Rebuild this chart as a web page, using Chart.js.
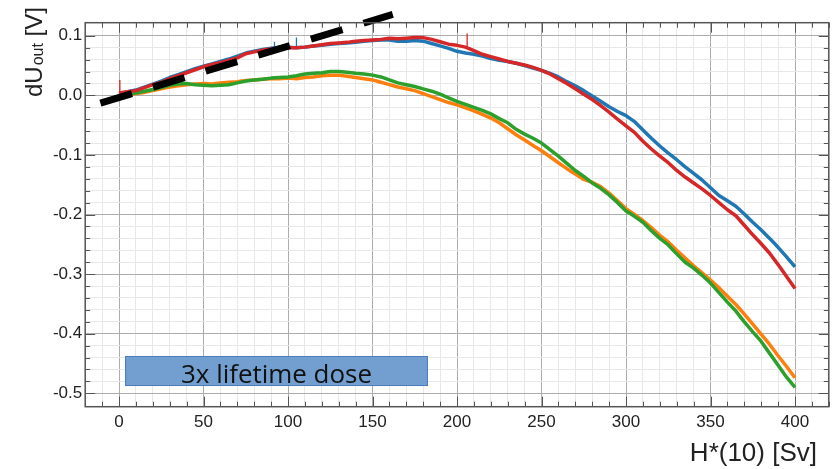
<!DOCTYPE html>
<html>
<head>
<meta charset="utf-8">
<script src="https://cdn.jsdelivr.net/npm/chart.js@4/dist/chart.umd.min.js"></script>
<style>
html,body{margin:0;padding:0;background:#fff;}
#wrap{width:835px;height:469px;position:relative;}
</style>
</head>
<body>
<div id="wrap"><canvas id="c" width="835" height="469"></canvas></div>
<script>
// ---- data ----
const doseX = [0,5,10,15,20,25,30,35,40,45,50,55,60,65,70,75,80,85,90,95,100,105,110,115,120,125,130,135,140,145,150,155,160,165,170,175,180,185,190,195,200,205,210,215,220,225,230,235,240,245,250,255,260,265,270,275,280,285,290,295,300,305,310,315,320,325,330,335,340,345,350,355,360,365,370,375,380,385,390,395,400];

const blueY = [0.003,0.006,0.009,0.014,0.019,0.024,0.030,0.035,0.040,0.045,0.049,0.053,0.057,0.061,0.066,0.071,0.074,0.077,0.079,0.081,0.081,0.080,0.081,0.083,0.084,0.086,0.087,0.088,0.089,0.091,0.092,0.093,0.093,0.091,0.091,0.092,0.091,0.087,0.083,0.079,0.074,0.071,0.069,0.066,0.062,0.059,0.057,0.054,0.050,0.046,0.042,0.037,0.031,0.023,0.016,0.008,-0.001,-0.010,-0.019,-0.027,-0.034,-0.044,-0.058,-0.072,-0.085,-0.097,-0.108,-0.120,-0.131,-0.142,-0.155,-0.168,-0.177,-0.186,-0.199,-0.213,-0.226,-0.240,-0.255,-0.271,-0.288];

const redY = [0.004,0.006,0.008,0.013,0.018,0.022,0.028,0.033,0.038,0.043,0.048,0.052,0.055,0.059,0.063,0.070,0.073,0.076,0.078,0.079,0.080,0.080,0.081,0.083,0.085,0.087,0.088,0.089,0.091,0.092,0.093,0.094,0.096,0.095,0.096,0.097,0.097,0.094,0.090,0.086,0.084,0.081,0.075,0.069,0.065,0.061,0.057,0.054,0.051,0.047,0.042,0.036,0.028,0.020,0.011,0.002,-0.007,-0.017,-0.028,-0.040,-0.051,-0.062,-0.077,-0.090,-0.102,-0.113,-0.126,-0.137,-0.147,-0.157,-0.168,-0.180,-0.192,-0.202,-0.218,-0.234,-0.249,-0.265,-0.284,-0.304,-0.324];

const greenY = [null,0.002,0.004,0.007,0.010,0.013,0.017,0.019,0.020,0.018,0.017,0.016,0.017,0.018,0.021,0.024,0.026,0.027,0.029,0.030,0.031,0.033,0.036,0.037,0.038,0.040,0.040,0.039,0.037,0.036,0.034,0.031,0.026,0.021,0.018,0.015,0.011,0.007,0.002,-0.004,-0.010,-0.015,-0.020,-0.025,-0.031,-0.039,-0.046,-0.057,-0.065,-0.072,-0.080,-0.091,-0.102,-0.114,-0.126,-0.136,-0.147,-0.156,-0.167,-0.180,-0.194,-0.203,-0.213,-0.227,-0.240,-0.251,-0.266,-0.280,-0.290,-0.302,-0.315,-0.331,-0.347,-0.362,-0.380,-0.397,-0.413,-0.433,-0.453,-0.473,-0.490];

const orangeY = [null,0.001,0.003,0.005,0.008,0.011,0.014,0.016,0.018,0.019,0.020,0.019,0.021,0.022,0.023,0.025,0.026,0.027,0.028,0.028,0.029,0.028,0.030,0.031,0.033,0.034,0.034,0.032,0.030,0.028,0.026,0.022,0.018,0.014,0.011,0.008,0.003,-0.002,-0.007,-0.012,-0.016,-0.021,-0.026,-0.032,-0.038,-0.046,-0.056,-0.066,-0.075,-0.084,-0.093,-0.103,-0.113,-0.123,-0.132,-0.141,-0.146,-0.153,-0.164,-0.177,-0.190,-0.200,-0.210,-0.222,-0.235,-0.246,-0.260,-0.273,-0.286,-0.298,-0.310,-0.323,-0.337,-0.351,-0.367,-0.384,-0.401,-0.418,-0.437,-0.455,-0.474];

// spikes: [dose, base, peak]
const redSpikes = [[0.5, 0.006, 0.026], [206, 0.082, 0.104]];
const blueSpikes = [[92, 0.081, 0.090], [105, 0.082, 0.097]];

// dashed linear guide
const guideX = [-11, 162];
const guideY = [-0.013, 0.136];

// annotation box
const doseBoxX = [3.6, 182.8];
const doseBoxY = [-0.4374, -0.4878];
const doseBoxText = '3x lifetime dose';

// axes
const xRange = [-20, 420];
const yRange = [-0.5225, 0.122];
const xTitle = 'H*(10) [Sv]';
const yTitleMain = 'dU';
const yTitleSub = 'out';
const yTitleUnit = ' [V]';

// ---- build ----
function toPoints(xs, ys) {
  return xs.map((x, i) => ({x: x, y: ys[i]}));
}
function spikePoints(spikes) {
  const pts = [];
  spikes.forEach(s => { pts.push({x: s[0], y: s[1]}, {x: s[0], y: s[2]}, {x: s[0], y: null}); });
  return pts;
}

const C_BLUE = '#1f77b4', C_ORANGE = '#ff7f0e', C_GREEN = '#2ca02c', C_RED = '#d62728';

function lineDs(label, pts, color, order, width) {
  return {label, data: pts, borderColor: color, backgroundColor: color, borderWidth: width || 3.5,
    pointRadius: 0, tension: 0, order, spanGaps: false, borderJoinStyle: 'round'};
}

const isMult = (v, step) => Math.abs(v / step - Math.round(v / step)) < 1e-6;

const framePlugin = {
  id: 'frame',
  beforeDatasetsDraw(chart) {
    const {ctx, scales: {x, y}} = chart;
    const x0 = x.getPixelForValue(doseBoxX[0]), x1 = x.getPixelForValue(doseBoxX[1]);
    const y0 = y.getPixelForValue(doseBoxY[0]), y1 = y.getPixelForValue(doseBoxY[1]);
    ctx.save();
    ctx.fillStyle = '#729fcf';
    ctx.strokeStyle = '#4d7dba';
    ctx.lineWidth = 1;
    ctx.fillRect(x0, y0, x1 - x0, y1 - y0);
    ctx.strokeRect(x0 + 0.5, y0 + 0.5, x1 - x0 - 1, y1 - y0 - 1);
    ctx.font = '25px "Open Sans"';
    let w = ctx.measureText(doseBoxText).width;
    const size = 25 * 191 / w;
    ctx.font = size.toFixed(2) + 'px "Open Sans"';
    ctx.fillStyle = '#111';
    ctx.textAlign = 'center';
    ctx.textBaseline = 'alphabetic';
    ctx.fillText(doseBoxText, (x0 + x1) / 2, (y0 + y1) / 2 + 11.5);
    ctx.restore();
  },
  afterDraw(chart) {
    const {ctx, chartArea: a, scales: {x, y}} = chart;
    ctx.save();
    ctx.strokeStyle = '#555';
    ctx.lineWidth = 1;
    ctx.beginPath();
    x.ticks.forEach(t => {
      const v = t.value;
      if (!isMult(v, 10)) return;
      const len = isMult(v, 50) ? 10 : 5;
      const px = Math.round(x.getPixelForValue(v)) + 0.5;
      ctx.moveTo(px, a.bottom); ctx.lineTo(px, a.bottom - len);
      ctx.moveTo(px, a.top); ctx.lineTo(px, a.top + len);
    });
    y.ticks.forEach(t => {
      const v = t.value;
      if (!isMult(v, 0.02)) return;
      const len = isMult(v, 0.1) ? 10 : 5;
      const py = Math.round(y.getPixelForValue(v)) + 0.5;
      ctx.moveTo(a.left, py); ctx.lineTo(a.left + len, py);
      ctx.moveTo(a.right, py); ctx.lineTo(a.right - len, py);
    });
    ctx.stroke();
    ctx.lineWidth = 1.5;
    ctx.strokeStyle = '#555';
    ctx.strokeRect(a.left, a.top, a.right - a.left, a.bottom - a.top);

    // axis titles
    ctx.fillStyle = '#222';
    ctx.textAlign = 'right';
    ctx.textBaseline = 'alphabetic';
    ctx.font = '26px "Liberation Sans", Arial, sans-serif';
    ctx.fillText(xTitle, 817, 461);

    ctx.translate(42, 97);
    ctx.rotate(-Math.PI / 2);
    ctx.textAlign = 'left';
    ctx.font = '24px "Liberation Sans", Arial, sans-serif';
    ctx.fillText(yTitleMain, 0, 0);
    let w1 = ctx.measureText(yTitleMain).width;
    ctx.font = '16px "Liberation Sans", Arial, sans-serif';
    ctx.fillText(yTitleSub, w1 + 1, 1);
    let w2 = ctx.measureText(yTitleSub).width;
    ctx.font = '24px "Liberation Sans", Arial, sans-serif';
    ctx.fillText(yTitleUnit, w1 + w2 + 1, 0);
    ctx.restore();
  }
};

const tickFont = {family: '"Liberation Sans", Arial, sans-serif', size: 17};

new Chart(document.getElementById('c'), {
  type: 'line',
  data: {
    datasets: [
      {label: 'guide', data: guideX.map((x, i) => ({x, y: guideY[i]})), borderColor: '#000',
       borderWidth: 7, borderDash: [33, 22], borderCapStyle: 'butt', pointRadius: 0, order: 0, clip: false},
      lineDs('red spikes', spikePoints(redSpikes), C_RED, 1, 1.3),
      lineDs('red', toPoints(doseX, redY), C_RED, 1),
      lineDs('green', toPoints(doseX, greenY), C_GREEN, 2),
      lineDs('orange', toPoints(doseX, orangeY), C_ORANGE, 3),
      lineDs('blue spikes', spikePoints(blueSpikes), C_BLUE, 4, 1.3),
      lineDs('blue', toPoints(doseX, blueY), C_BLUE, 4)
    ]
  },
  options: {
    responsive: false,
    animation: false,
    devicePixelRatio: 1,
    layout: {padding: {left: 0, top: 22.7, right: 6.2, bottom: 0}},
    plugins: {legend: {display: false}, tooltip: {enabled: false}},
    scales: {
      x: {
        type: 'linear', min: xRange[0], max: xRange[1],
        afterFit: s => { s.height = 62.3; },
        border: {display: false},
        grid: {drawTicks: false, lineWidth: 1,
          color: c => { const v = c.tick.value; if (!isMult(v, 10)) return 'rgba(0,0,0,0)'; return isMult(v, 50) ? '#acacac' : '#e8e8e8'; }},
        ticks: {stepSize: 10, autoSkip: false, maxRotation: 0, minRotation: 0, padding: 5, color: '#222', font: tickFont,
          callback: v => (isMult(v, 50) ? String(Math.round(v)) : '')}
      },
      y: {
        type: 'linear', min: yRange[0], max: yRange[1],
        afterFit: s => { s.width = 85.2; },
        border: {display: false},
        grid: {drawTicks: false, lineWidth: 1,
          color: c => { const v = c.tick.value; if (!isMult(v, 0.02)) return 'rgba(0,0,0,0)'; return isMult(v, 0.1) ? '#acacac' : '#e8e8e8'; }},
        ticks: {stepSize: 0.02, autoSkip: false, padding: 3, color: '#222', font: tickFont,
          callback: v => (isMult(v, 0.1) ? (Math.round(v * 10) / 10).toFixed(1) : '')}
      }
    }
  },
  plugins: [framePlugin]
});
</script>
</body>
</html>
